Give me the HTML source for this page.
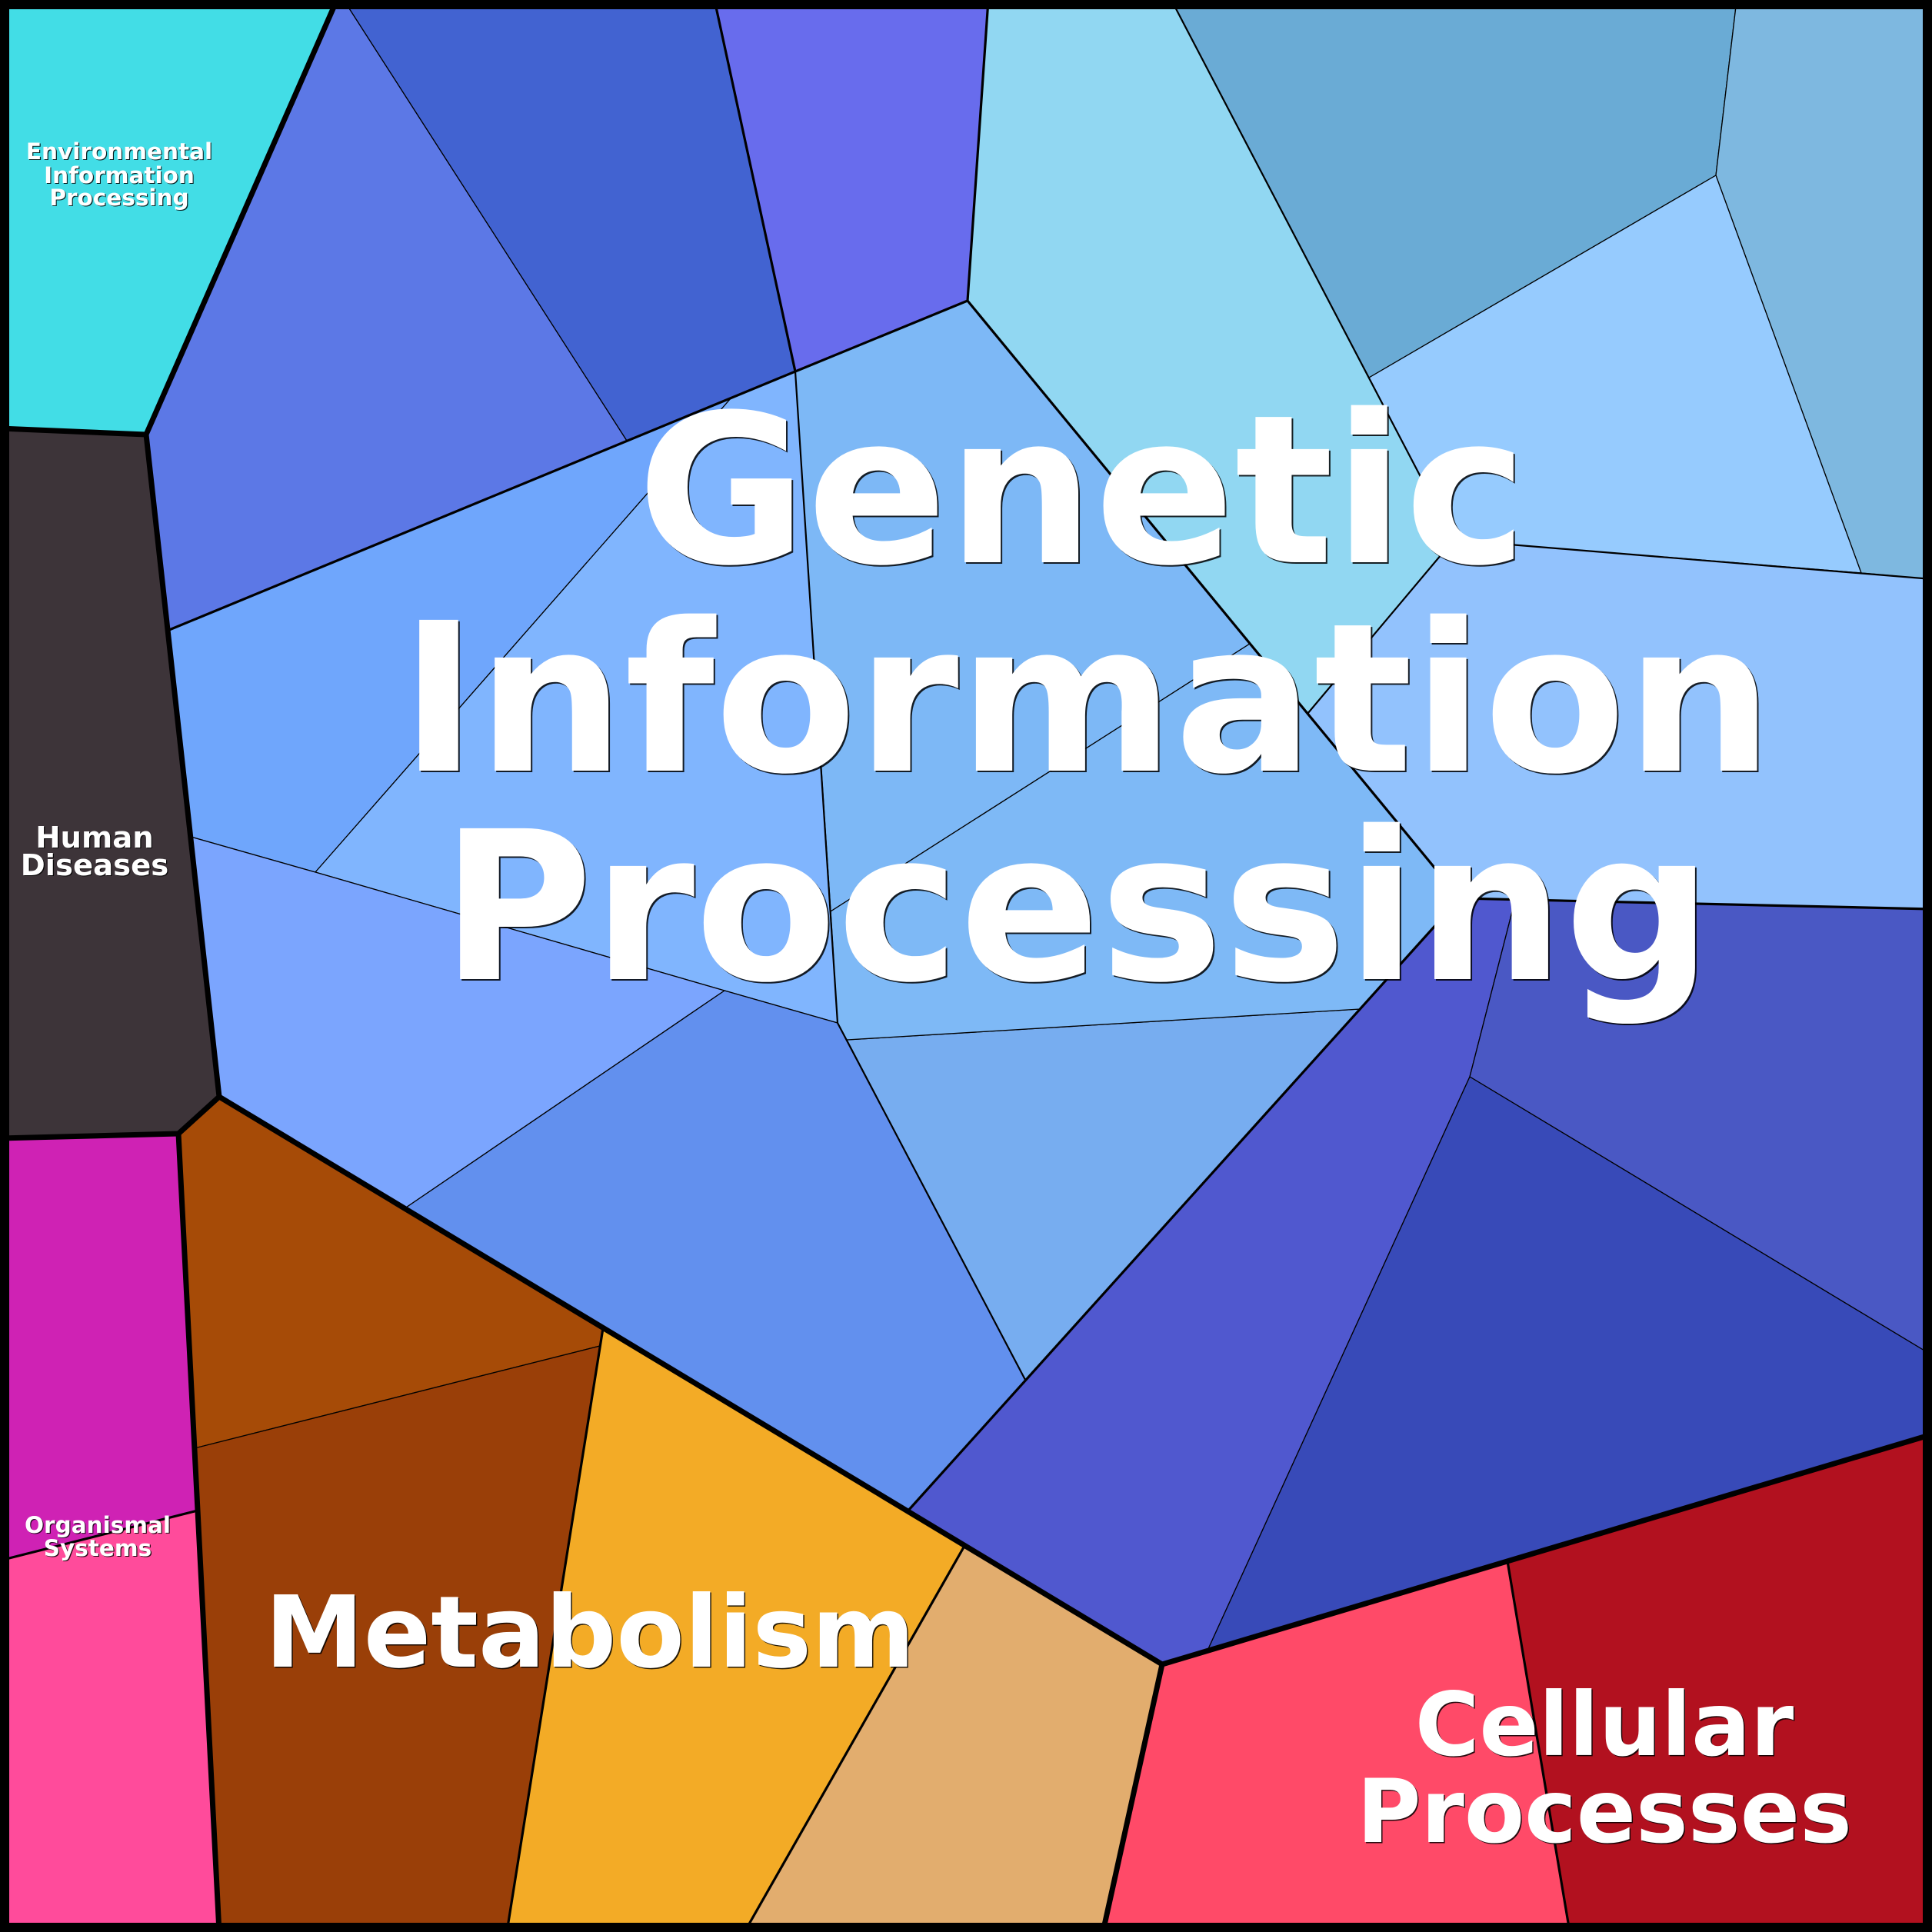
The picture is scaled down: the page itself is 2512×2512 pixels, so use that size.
<!DOCTYPE html>
<html>
<head>
<meta charset="utf-8">
<style>
html,body{margin:0;padding:0;background:#fff;}
svg{display:block;}
text{font-family:"DejaVu Sans","Liberation Sans",sans-serif;font-weight:bold;text-anchor:middle;}
</style>
</head>
<body>
<svg xmlns="http://www.w3.org/2000/svg" width="2512" height="2512" viewBox="0 0 2512 2512">
<g stroke="#000" stroke-width="1.3" stroke-linejoin="round">
<polygon fill="#42dde6" points="0,0 438,0 190,565 0,557"/>
<polygon fill="#5c78e6" points="438,0 447,0 815,573 220,819 190,565"/>
<polygon fill="#4263d1" points="447,0 929,0 1034,483 815,573"/>
<polygon fill="#686ced" points="929,0 1285,0 1258,391 1034,483"/>
<polygon fill="#6fa6fc" points="220,819 951,517 410,1134 248,1088"/>
<polygon fill="#80b5fe" points="951,517 1034,483 1089,1330 942,1288 410,1134"/>
<polygon fill="#7ba5fe" points="248,1088 410,1134 942,1288 525,1572 285,1426"/>
<polygon fill="#6290ee" points="942,1288 1089,1330 1101,1352 1333,1794 1180,1965 525,1572"/>
<polygon fill="#77adf0" points="1101,1352 1768,1312 1333,1794"/>
<polygon fill="#7db8f6" points="1034,483 1258,391 1625,837 1080,1185"/>
<polygon fill="#7eb9f6" points="1080,1185 1625,837 1700,928 1898,1168 1768,1312 1101,1352 1089,1330"/>
<polygon fill="#91d7f2" points="1285,0 1523,0 1780,491 1890,702 1700,928 1258,391"/>
<polygon fill="#6aabd5" points="1523,0 2258,0 2231,228 1780,491"/>
<polygon fill="#7eb8e0" points="2258,0 2512,0 2512,753 2420,745 2231,228"/>
<polygon fill="#96cbfe" points="1780,491 2231,228 2420,745 1890,702"/>
<polygon fill="#92c2fd" points="1890,702 2512,753 2512,1182 1970,1170 1898,1168 1700,928"/>
<polygon fill="#5058cf" points="1898,1168 1970,1170 1911,1400 1570,2146 1511,2164 1180,1965"/>
<polygon fill="#4a58c4" points="1970,1170 2512,1182 2512,1762 1911,1400"/>
<polygon fill="#384ab8" points="1911,1400 2512,1762 2512,1865 1570,2146"/>
<polygon fill="#3d3439" points="0,557 190,565 285,1426 232,1474 0,1480"/>
<polygon fill="#cf22b4" points="0,1480 232,1474 257,1964 0,2029"/>
<polygon fill="#ff4b9b" points="0,2029 257,1964 285,2512 0,2512"/>
<polygon fill="#a64b07" points="232,1474 285,1426 784,1727 780,1750 253,1883"/>
<polygon fill="#9a3f08" points="253,1883 780,1750 659,2512 285,2512"/>
<polygon fill="#f3ab26" points="784,1727 1254,2010 968,2512 659,2512"/>
<polygon fill="#e2ad6e" points="1254,2010 1511,2164 1434,2512 968,2512"/>
<polygon fill="#ff4a68" points="1511,2164 1960,2030 2041,2512 1434,2512"/>
<polygon fill="#b2111f" points="1960,2030 2512,1865 2512,2512 2041,2512"/>
</g>

<g stroke="#000" stroke-width="2.2" fill="none" stroke-linecap="round" stroke-linejoin="round">
<polyline points="1034,483 1089,1330 1333,1794"/>
<polyline points="1523,0 1890,702 1700,928"/>
<polyline points="1890,702 2512,753"/>
</g>
<g stroke="#000" stroke-width="3.2" fill="none" stroke-linecap="round" stroke-linejoin="round">
<polyline points="929,0 1034,483"/>
<polyline points="220,819 1034,483 1258,391 1285,0"/>
<polyline points="1258,391 1898,1168 2512,1182"/>
<polyline points="1898,1168 1180,1965"/>
<polyline points="784,1727 659,2512"/>
<polyline points="1254,2010 968,2512"/>
<polyline points="1960,2030 2041,2512"/>
<polyline points="0,2029 257,1964"/>
</g>
<g stroke="#000" stroke-width="7" fill="none" stroke-linecap="round" stroke-linejoin="round">
<polyline points="438,0 190,565 0,557"/>
<polyline points="190,565 285,1426 232,1474 0,1480"/>
<polyline points="232,1474 285,2512"/>
<polyline points="285,1426 1511,2164 1434,2512"/>
<polyline points="1511,2164 2512,1865"/>
</g>
<rect x="0" y="0" width="2512" height="2512" fill="none" stroke="#000" stroke-width="24"/>

<g fill="#000" fill-opacity="0.85">
<g transform="translate(2,2)" font-size="269">
<text x="1407" y="731">Genetic</text>
<text x="1413" y="1002">Information</text>
<text x="1400" y="1273">Processing</text>
</g>
<g transform="translate(1.5,1.5)">
<text x="767" y="2167" font-size="129">Metabolism</text>
<text x="2086" y="2282" font-size="114">Cellular</text>
<text x="2086" y="2395" font-size="114">Processes</text>
</g>
<g transform="translate(1.2,1.2)">
<text x="123" y="1102" font-size="38.6">Human</text>
<text x="123" y="1138" font-size="38.6">Diseases</text>
<text x="155" y="207" font-size="29.5">Environmental</text>
<text x="155" y="238" font-size="29.5">Information</text>
<text x="155" y="267" font-size="29.5">Processing</text>
<text x="127" y="1993" font-size="29.5">Organismal</text>
<text x="127" y="2023" font-size="29.5">Systems</text>
</g>
</g>
<g fill="#fff">
<text x="1407" y="731" font-size="269">Genetic</text>
<text x="1413" y="1002" font-size="269">Information</text>
<text x="1400" y="1273" font-size="269">Processing</text>
<text x="767" y="2167" font-size="129">Metabolism</text>
<text x="2086" y="2282" font-size="114">Cellular</text>
<text x="2086" y="2395" font-size="114">Processes</text>
<text x="123" y="1102" font-size="38.6">Human</text>
<text x="123" y="1138" font-size="38.6">Diseases</text>
<text x="155" y="207" font-size="29.5">Environmental</text>
<text x="155" y="238" font-size="29.5">Information</text>
<text x="155" y="267" font-size="29.5">Processing</text>
<text x="127" y="1993" font-size="29.5">Organismal</text>
<text x="127" y="2023" font-size="29.5">Systems</text>
</g>
</svg>
</body>
</html>
